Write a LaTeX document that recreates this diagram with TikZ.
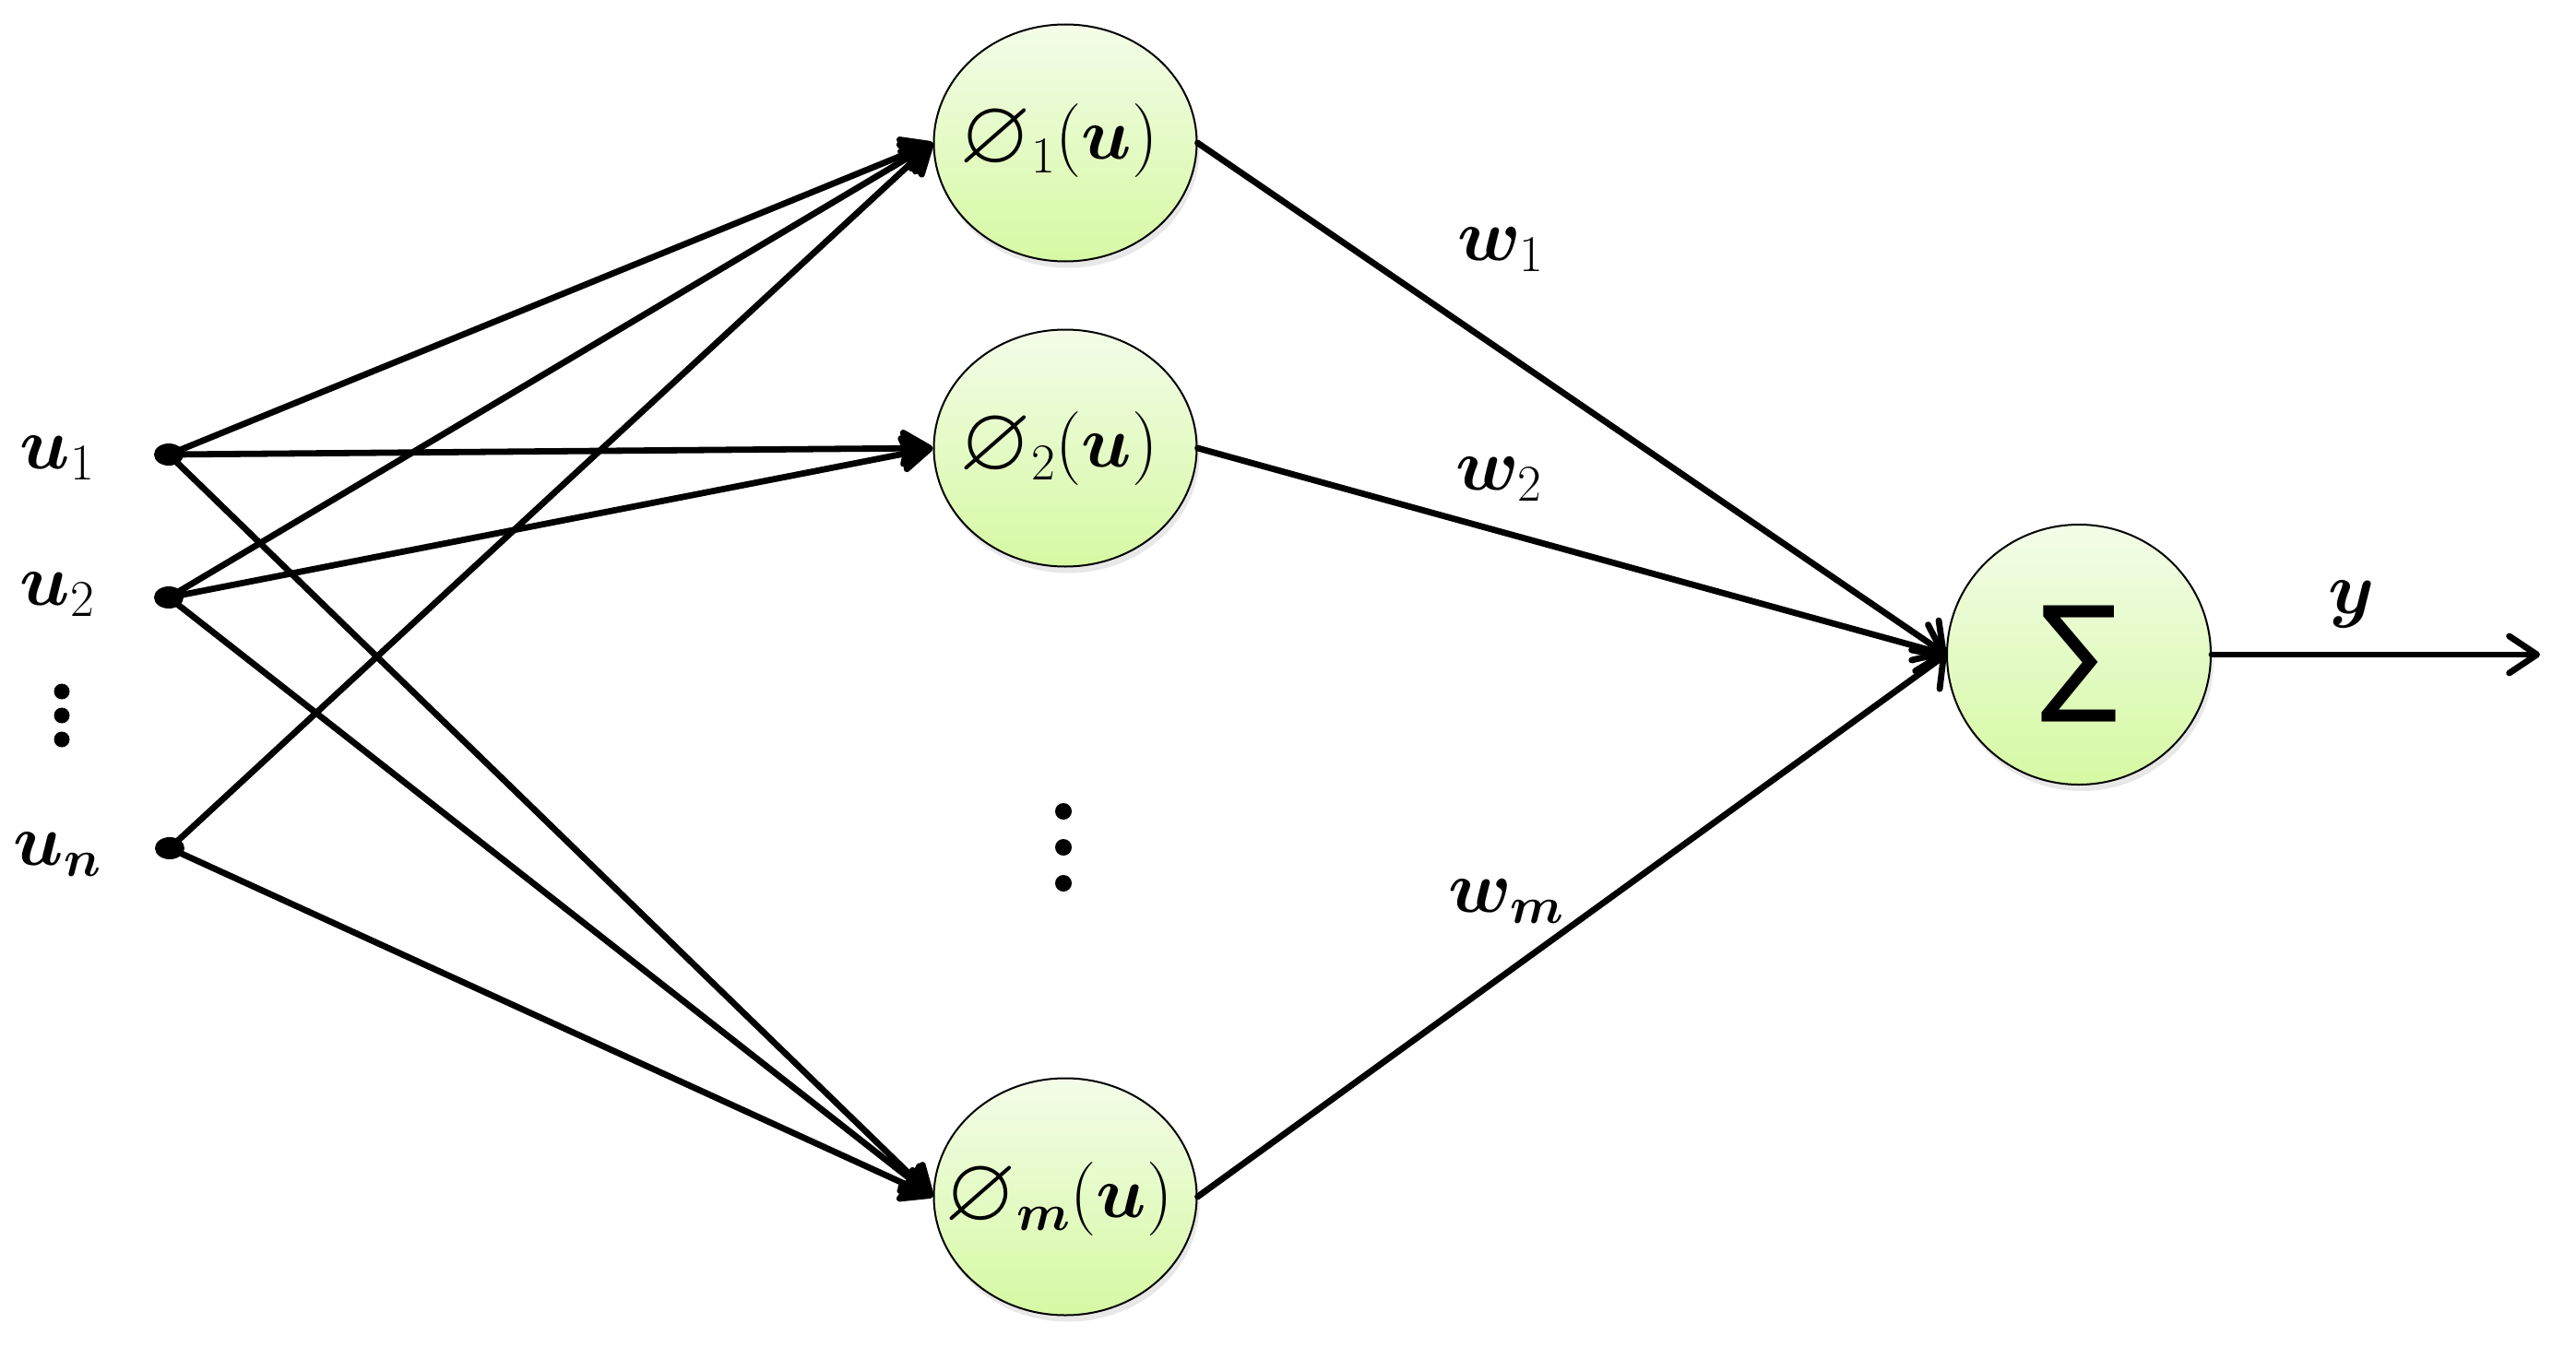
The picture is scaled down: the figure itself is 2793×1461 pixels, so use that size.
\RequirePackage{fix-cm}
\documentclass[tikz,border=0pt]{standalone}
\usepackage{amsmath,amssymb,bm}
\usepackage{graphicx}
\usepackage{fontspec}
\newfontfamily\sumfont{DejaVu Sans}
\newcommand{\phisym}{\mathord{\raisebox{-0.04em}{\scalebox{1.25}{$\varnothing$}}}}
\usetikzlibrary{arrows.meta,shapes.geometric,shadows}
\definecolor{gtop}{HTML}{F3FCE8}
\definecolor{gbot}{HTML}{D6F9A3}
\tikzset{
  neuron/.style={ellipse, draw=black, line width=2pt, top color=gtop, bottom color=gbot,
    inner sep=0pt, drop shadow={shadow xshift=3pt, shadow yshift=-7pt, opacity=0.18}},
  phinode/.style={neuron, minimum width=285pt, minimum height=257pt},
  sumnode/.style={neuron, minimum width=286pt, minimum height=282pt},
  bigtxt/.style={font=\fontsize{80}{94}\selectfont, inner sep=0pt},
  indot/.style={ellipse, fill=black, minimum width=32pt, minimum height=24pt, inner sep=0pt},
  smalldot/.style={circle, fill=black, minimum size=18pt, inner sep=0pt},
  conn/.style={line width=6.8pt, line cap=round, line join=round},
  inarrow/.style={conn, -{Stealth[length=40pt,width=46pt,inset=5pt,round]}},
  sumarrow/.style={conn, -{Straight Barb[length=24pt,width=52pt,round]}},
  outarrow/.style={conn, -{Straight Barb[length=30pt,width=40pt,round]}},
}
\begin{document}
\begin{tikzpicture}[x=1pt,y=-1pt]
\useasboundingbox (0,0) rectangle (2793,1461);
% hidden nodes
\node[phinode] (p1) at (1155,155) {};
\node[phinode] (p2) at (1155,486) {};
\node[phinode] (pm) at (1155,1298) {};
\node[sumnode] (s) at (2254,710) {};
\node[bigtxt] (t1) at (1148,153) {$\phisym_{1}(\bm{u})$};
\node[bigtxt] (t2) at (1148,486) {$\phisym_{2}(\bm{u})$};
\node[bigtxt] (tm) at (1148,1300) {$\phisym_{\bm{m}}(\bm{u})$};
\node[inner sep=0pt] (ts) at (2255,720) {\resizebox*{84pt}{126pt}{\sumfont ∑}};
% inputs
\node[indot] (u1) at (183,493) {};
\node[indot] (u2) at (183,648) {};
\node[indot] (un) at (184,920) {};
\node[bigtxt] (lu1) at (62,497) {$\bm{u}_1$};
\node[bigtxt] (lu2) at (62,645) {$\bm{u}_2$};
\node[bigtxt] (lun) at (62,927) {$\bm{u}_{\bm{n}}$};
\node[smalldot, minimum size=17pt] (v1) at (67,750) {};
\node[smalldot, minimum size=17pt] (v2) at (67,776) {};
\node[smalldot, minimum size=17pt] (v3) at (67,802) {};
\node[smalldot] (m1) at (1153,880) {};
\node[smalldot] (m2) at (1153,919) {};
\node[smalldot] (m3) at (1153,958) {};
% weight labels
\node[bigtxt] (w1) at (1627,271) {$\bm{w}_1$};
\node[bigtxt] (w2) at (1625,520) {$\bm{w}_2$};
\node[bigtxt] (wm) at (1633,978) {$\bm{w}_{\bm{m}}$};
\node[bigtxt] (ly) at (2550,655) {$\bm{y}$};
% input connectors
\draw[inarrow] (u1.center) -- (p1.west);
\draw[inarrow] (u1.center) -- (p2.west);
\draw[inarrow] (u1.center) -- (pm.west);
\draw[inarrow] (u2.center) -- (p1.west);
\draw[inarrow] (u2.center) -- (p2.west);
\draw[inarrow] (u2.center) -- (pm.west);
\draw[inarrow] (un.center) -- (p1.west);
\draw[inarrow] (un.center) -- (pm.west);
% hidden to sum
\draw[sumarrow] (p1.east) -- (s.west);
\draw[sumarrow] (p2.east) -- (s.west);
\draw[sumarrow] (pm.east) -- (s.west);
% output
\coordinate (out) at (2754,710);
\draw[outarrow] (s.east) -- (out);
\end{tikzpicture}
\end{document}
